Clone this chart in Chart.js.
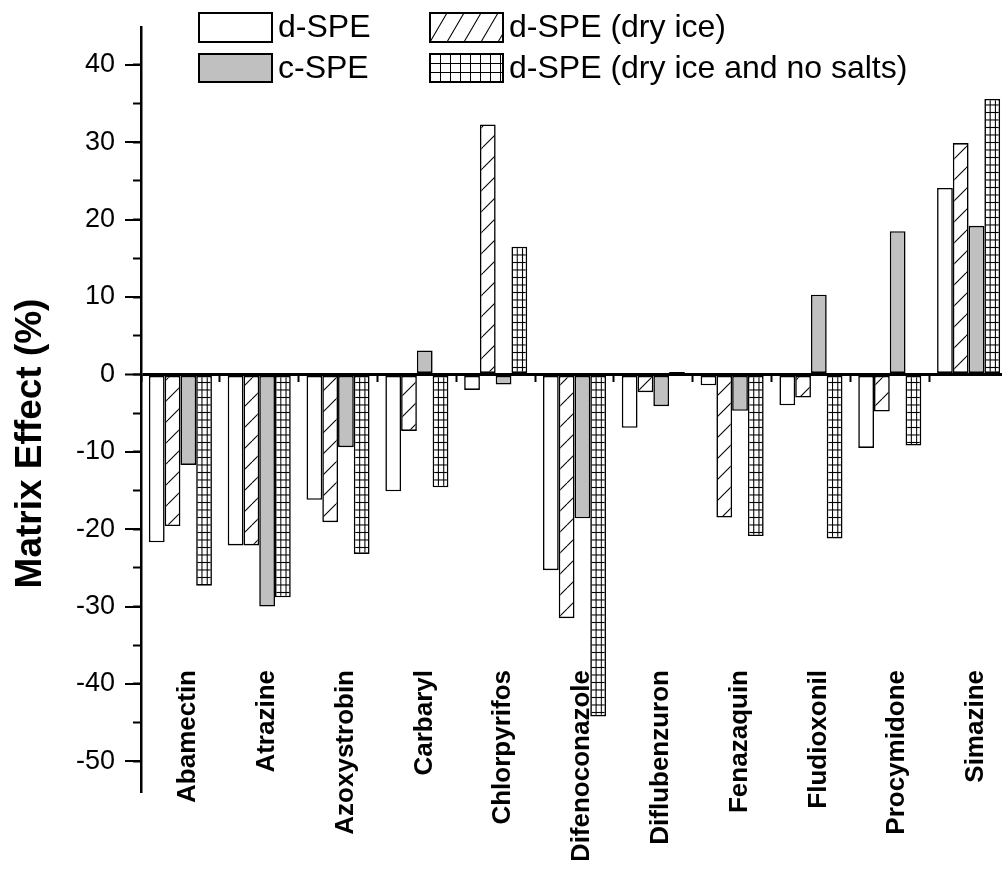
<!DOCTYPE html>
<html>
<head>
<meta charset="utf-8">
<script src="https://cdn.jsdelivr.net/npm/chart.js@4.4.1/dist/chart.umd.min.js"></script>
<style>
html,body{margin:0;padding:0;background:#fff;overflow:hidden;width:1002px;height:869px;}
#wrap{position:absolute;left:0;top:0;width:1008px;height:869px;}
canvas{display:block;}
</style>
</head>
<body>
<div id="wrap"><canvas id="c" width="1008" height="869"></canvas></div>
<script>
// ---- data ----
const categories = ['Abamectin','Atrazine','Azoxystrobin','Carbaryl','Chlorpyrifos','Difenoconazole','Diflubenzuron','Fenazaquin','Fludioxonil','Procymidone','Simazine'];
const seriesNames = ['d-SPE','d-SPE (dry ice)','c-SPE','d-SPE (dry ice and no salts)'];
const dSPE              = [-21.7, -22.1, -16.2, -15.1,  -2.0, -25.3, -6.9,  -1.4,  -4.0, -9.5, 24.1];
const dSPEDryIce        = [-19.6, -22.1, -19.1,  -7.3,  32.3, -31.5, -2.3, -18.5,  -3.0, -4.8, 29.9];
const cSPE              = [-11.7, -30.0,  -9.4,   3.1,  -1.3, -18.6, -4.1,  -4.7,  10.3, 18.5, 19.2];
const dSPEDryIceNoSalts = [-27.3, -28.8, -23.2, -14.6,  16.5, -44.2,  0.3, -20.9, -21.2, -9.2, 35.6];
const yMin = -54.1, yMax = 44.9;
const yMajorStep = 10, yMinorStep = 5;
const axisTitle = 'Matrix Effect (%)';

// ---- styling ----
const FONT = '"Liberation Sans", Arial, Helvetica, sans-serif';
Chart.defaults.font.family = FONT;
Chart.defaults.color = '#000';

const canvas = document.getElementById('c');
const ctx0 = canvas.getContext('2d');

function tileCanvas(w, h) {
  const c = document.createElement('canvas');
  c.width = w; c.height = h;
  const g = c.getContext('2d');
  g.fillStyle = '#fff'; g.fillRect(0, 0, w, h);
  return [c, g];
}
function hatchPattern(w, h, lw) {
  const [c, g] = tileCanvas(w, h);
  g.strokeStyle = '#000'; g.lineWidth = lw;
  for (const o of [-w, 0, w]) { g.beginPath(); g.moveTo(o, h); g.lineTo(o + w, 0); g.stroke(); }
  return ctx0.createPattern(c, 'repeat');
}
function gridPattern(w, h, lw) {
  const [c, g] = tileCanvas(w, h);
  g.strokeStyle = '#000'; g.lineWidth = lw;
  g.beginPath(); g.moveTo(0.5, 0); g.lineTo(0.5, h); g.stroke();
  g.beginPath(); g.moveTo(0, 0.5); g.lineTo(w, 0.5); g.stroke();
  return ctx0.createPattern(c, 'repeat');
}
const barHatch = hatchPattern(21, 21, 1.1);
const barGrid = gridPattern(5, 7, 1);
const legHatch = hatchPattern(17, 29, 1.1);
const legGrid = gridPattern(10, 9, 1);
const GRAY = '#c0c0c0';

const fills = ['#ffffff', barHatch, GRAY, barGrid];
const legendFills = ['#ffffff', legHatch, GRAY, legGrid];
const seriesValues = [dSPE, dSPEDryIce, cSPE, dSPEDryIceNoSalts];

// category labels start this many px above the plot bottom (they sit inside the plot)
const LABEL_RISE = 123;
const labelPlacement = {
  id: 'labelPlacement',
  afterLayout(chart) {
    const xs = chart.scales.x;
    xs.top = chart.chartArea.bottom - LABEL_RISE;
  }
};

// align grid pattern with bar cells
const patternAlign = {
  id: 'patternAlign',
  beforeDatasetsDraw(chart) {
    const xs = chart.scales.x, ys = chart.scales.y;
    const catW = xs.width / categories.length;
    const barW = catW * 0.8 / 4;
    const cellW = barW / 3;
    const x0 = xs.left + catW * 0.1 + 3 * barW;
    const y0 = ys.getPixelForValue(0);
    barGrid.setTransform(new DOMMatrix([cellW / 5, 0, 0, 7.5 / 7, x0, y0]));
  }
};

// custom 2x2 legend
const boxLegend = {
  id: 'boxLegend',
  afterDraw(chart) {
    const ctx = chart.ctx;
    const colX = [199, 430], rowY = [13, 54], bw = 73, bh = [29, 28];
    chart.data.datasets.forEach((ds, i) => {
      const col = i % 2, row = Math.floor(i / 2);
      const bx = colX[col], by = rowY[row], h = bh[row];
      ctx.save();
      ctx.translate(bx, by);
      ctx.fillStyle = legendFills[i];
      ctx.fillRect(0, 0, bw, h);
      ctx.lineWidth = 2; ctx.strokeStyle = '#000';
      ctx.strokeRect(0, 0, bw, h);
      ctx.restore();
      ctx.save();
      ctx.fillStyle = '#000';
      ctx.font = '32px ' + FONT;
      ctx.textBaseline = 'middle';
      ctx.textAlign = 'left';
      ctx.fillText(ds.label, bx + bw + 6, by + h / 2 + 1);
      ctx.restore();
    });
  }
};

const keepMultiples = step => s => {
  s.ticks = s.ticks.filter(t => Math.abs(t.value / step - Math.round(t.value / step)) < 1e-6);
};

const TITLE_SIZE = 37, TITLE_PAD_TOP = 9;
const titleWidth = TITLE_SIZE * 1.2 + TITLE_PAD_TOP;

new Chart(canvas, {
  type: 'bar',
  data: {
    labels: categories,
    datasets: seriesNames.map((name, i) => ({
      label: name,
      data: seriesValues[i],
      backgroundColor: fills[i],
      borderColor: '#000',
      borderWidth: 1.6,
      borderSkipped: false,
      categoryPercentage: 0.8,
      barPercentage: 1.0
    }))
  },
  options: {
    responsive: false,
    animation: false,
    events: [],
    layout: { padding: { top: 27, bottom: 9, left: 0, right: 0 } },
    plugins: {
      legend: { display: false },
      tooltip: { enabled: false },
      title: {
        display: true, text: axisTitle, position: 'left', align: 'center', color: '#000',
        font: { size: TITLE_SIZE, weight: 'bold', lineHeight: 1.2 },
        padding: { top: TITLE_PAD_TOP, bottom: 0 }
      }
    },
    scales: {
      x: {
        type: 'category', position: 'bottom', offset: true,
        grid: { display: false, drawTicks: false },
        border: { display: false },
        ticks: {
          autoSkip: false, maxRotation: 90, minRotation: 90, padding: 0, labelOffset: 7.5,
          color: '#000', font: { size: 26, weight: 'bold' }
        },
        afterFit: s => { s.height = 67; }
      },
      xt: {
        type: 'category', position: { y: 0 }, offset: true,
        grid: { offset: true, drawOnChartArea: false, drawTicks: true, tickLength: 8, tickColor: '#000', tickWidth: 2 },
        border: { display: false },
        ticks: { display: false },
        afterFit: s => { s.height = 0; }
      },
      y: {
        type: 'linear', position: 'left', weight: 1, min: yMin, max: yMax,
        ticks: { stepSize: yMajorStep, padding: 10, color: '#000', font: { size: 27 } },
        afterBuildTicks: keepMultiples(yMajorStep),
        grid: {
          drawOnChartArea: true,
          color: c => (c.tick && c.tick.value === 0) ? '#000' : 'rgba(0,0,0,0)',
          lineWidth: c => (c.tick && c.tick.value === 0) ? 3 : 0,
          tickColor: '#000', tickWidth: 2, tickLength: 16
        },
        border: { display: true, color: '#000', width: 2.5 },
        afterFit: s => { s.width = 141 - titleWidth; }
      },
      yMinor: {
        type: 'linear', position: 'left', weight: 0, min: yMin, max: yMax,
        ticks: { display: false, stepSize: yMinorStep },
        afterBuildTicks: keepMultiples(yMinorStep),
        grid: { drawOnChartArea: false, tickLength: 8, tickColor: '#000', tickWidth: 2 },
        border: { display: false },
        afterFit: s => { s.width = 0; }
      }
    }
  },
  plugins: [labelPlacement, patternAlign, boxLegend]
});
</script>
</body>
</html>
